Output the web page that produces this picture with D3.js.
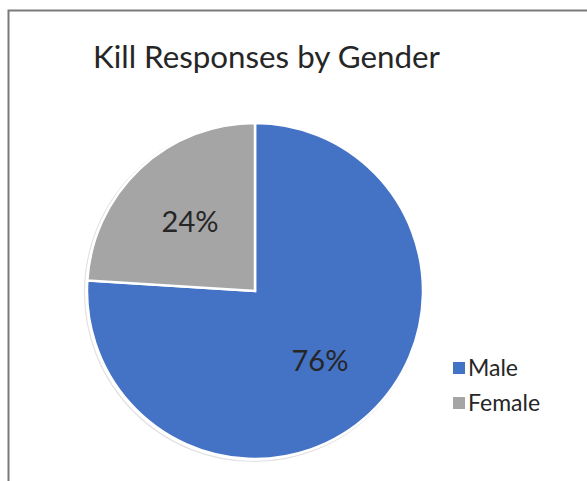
<!DOCTYPE html>
<html>
<head>
<meta charset="utf-8">
<script src="https://cdn.jsdelivr.net/npm/d3@7"></script>
<style>
  html, body { margin: 0; padding: 0; background: #fff; }
  svg { display: block; }
  text { font-family: Lato, "Open Sans", sans-serif; fill: #262626; }
</style>
</head>
<body>
<svg id="chart" width="587" height="481"></svg>
<script>
// Survey responses by gender (percent)
const categories = ["Male", "Female"];
const values = [76, 24];
const colors = ["#4472C4", "#A5A5A5"];
const title = "Kill Responses by Gender";

const svg = d3.select("#chart");
const W = 587, H = 481;

// Chart frame (top and left edges)
svg.append("path")
  .attr("d", `M8.5,${H} V10.5 H${W}`)
  .attr("fill", "none")
  .attr("stroke", "#7a7a7a")
  .attr("stroke-width", 2);

// Title, fitted to its width
const t = svg.append("text")
  .attr("x", 93).attr("y", 68)
  .attr("font-size", 32)
  .text(title);
const tw = t.node().getComputedTextLength();
t.attr("font-size", 32 * 347 / tw);

const cx = 255, cy = 291, r = 168;
const g = svg.append("g").attr("transform", `translate(${cx},${cy})`);

// faint outline shadow
g.append("circle")
  .attr("cx", -1.5).attr("cy", 1.5).attr("r", r + 1)
  .attr("fill", "none")
  .attr("stroke", "#e2e2e2")
  .attr("stroke-width", 1.2);

const pie = d3.pie().sort(null).value(d => d)(values);
const arc = d3.arc().innerRadius(0).outerRadius(r);

g.selectAll("path.slice")
  .data(pie)
  .join("path")
  .attr("class", "slice")
  .attr("d", arc)
  .attr("fill", (d, i) => colors[i])
  .attr("stroke", "#fff")
  .attr("stroke-width", 2.5)
  .attr("stroke-linejoin", "miter");

// Percent labels
const labelArc = d3.arc().innerRadius(r * 0.565).outerRadius(r * 0.565);
g.selectAll("text.pct")
  .data(pie)
  .join("text")
  .attr("class", "pct")
  .attr("transform", d => {
    const [x, y] = labelArc.centroid(d);
    return `translate(${x},${y})`;
  })
  .attr("text-anchor", "middle")
  .attr("dy", "0.36em")
  .attr("font-size", 29)
  .text(d => d.data + "%");

// Legend
const legend = svg.append("g").attr("transform", "translate(453,362)");
const items = legend.selectAll("g")
  .data(categories)
  .join("g")
  .attr("transform", (d, i) => `translate(0,${i * 35})`);
items.append("rect")
  .attr("width", 12).attr("height", 12)
  .attr("fill", (d, i) => colors[i]);
items.append("text")
  .attr("x", 15).attr("y", 6)
  .attr("dy", "0.36em")
  .attr("font-size", 23)
  .text(d => d);
</script>
</body>
</html>
